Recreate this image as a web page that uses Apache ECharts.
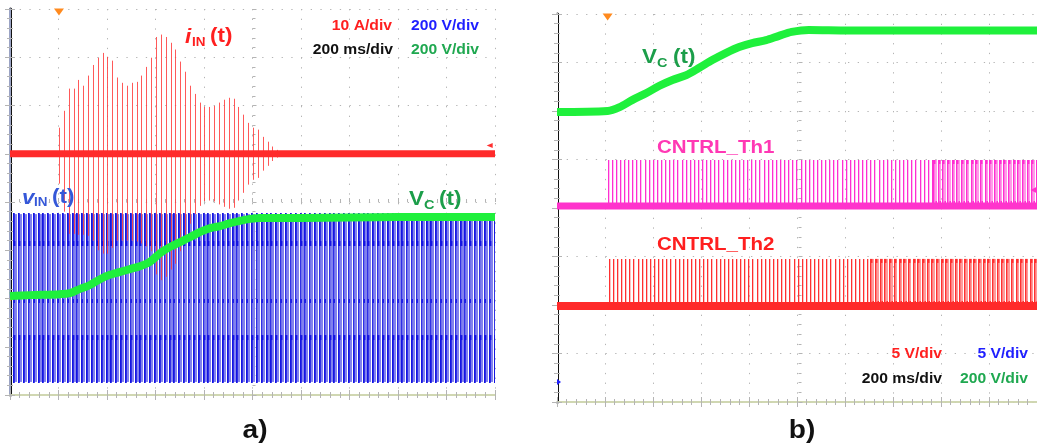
<!DOCTYPE html>
<html><head><meta charset="utf-8">
<script src="https://cdn.jsdelivr.net/npm/echarts@6/dist/echarts.min.js"></script>
<style>html,body{margin:0;padding:0;background:#fff}#c{width:1037px;height:446px}</style>
</head><body><div id="c"></div><script>
// ===== Panel a) : time in ms (200 ms/div), level in screen divisions (0 = bottom, 8 = top)
const aVcTime  = [0, 82, 206, 247, 289, 330, 371, 412, 454, 495, 536, 577, 619, 660, 701, 742, 784, 825, 866, 907, 948, 990, 1031, 1200, 1600, 2000];
const aVcLevel = [2.05, 2.07, 2.09, 2.11, 2.20, 2.28, 2.40, 2.49, 2.55, 2.61, 2.67, 2.76, 2.94, 3.07, 3.17, 3.27, 3.38, 3.46, 3.50, 3.56, 3.61, 3.65, 3.67, 3.67, 3.69, 3.69];
const aIinZero = 5.0;
const aIinFirstMs = 202;
const mainsPeriodMs = 20;
const aIinPeakUp   = [0.54,0.89,1.35,1.35,1.53,1.41,1.62,1.84,1.99,2.09,2.01,1.93,1.58,1.47,1.41,1.47,1.49,1.62,1.80,1.99,2.42,2.47,2.42,2.30,2.16,1.91,1.70,1.41,1.24,1.06,0.97,0.97,0.99,1.06,1.12,1.16,1.14,0.97,0.81,0.64,0.54,0.50,0.35,0.25,0.15,0.08];
const aIinPeakDown = [0.62,1.20,1.66,1.66,1.68,1.68,1.70,1.80,2.00,2.07,2.07,1.95,1.80,1.80,1.80,1.80,1.82,1.86,1.92,2.02,2.50,2.62,2.55,2.40,2.28,2.02,1.75,1.45,1.25,1.08,0.98,0.97,0.99,1.05,1.10,1.14,1.12,0.97,0.81,0.64,0.54,0.50,0.35,0.25,0.15,0.08];
const aVinFirstMs = 14;
const aVinTop = 3.77, aVinBottom = 0.25, aVinDarkTop = 3.15, aVinDarkBottom = 1.18, aVinMid = 1.95;

// ===== Panel b)
const bVcTime  = [0, 211, 261, 315, 373, 427, 481, 539, 593, 647, 705, 759, 813, 871, 925, 978, 1049, 1215, 2000];
const bVcLevel = [5.98, 6.00, 6.08, 6.23, 6.37, 6.52, 6.64, 6.74, 6.89, 7.05, 7.20, 7.32, 7.40, 7.46, 7.55, 7.63, 7.67, 7.66, 7.66];
const bTh1Low = 4.04, bTh1High = 4.99, bTh1StartMs = 211, bTh1WideFromMs = 1567;
const bTh2Low = 1.98, bTh2High = 2.95, bTh2StartMs = 216, bTh2WideFromMs = 1306;
const bPulsePeriodMs = 17.1, bPulseWidePeriodMs = 19.5, bPulseWideMs = 15;

// ===== Labels
const aScaleLabels = [['10 A/div', '200 V/div'], ['200 ms/div', '200 V/div']];
const bScaleLabels = [['5 V/div', '5 V/div'], ['200 ms/div', '200 V/div']];

const FONT = '"Liberation Sans", Arial, sans-serif';

function pulses(start, wideFrom, lo, hi) {
  const out = [];
  let t = start;
  for (; t < wideFrom; t += bPulsePeriodMs) out.push([t, lo, hi, 0]);
  for (t = wideFrom; t < 2000; t += bPulseWidePeriodMs) out.push([t, lo, hi, bPulseWideMs]);
  return out;
}
const vinCycles = [];
for (let t = aVinFirstMs; t < 2000; t += mainsPeriodMs) vinCycles.push([t]);
const iinSpikes = aIinPeakUp.map((u, k) => [aIinFirstMs + k * mainsPeriodMs, aIinZero - aIinPeakDown[k], aIinZero + u]);

function axesFor(g, W, H, rightColor) {
  const grid = '#b4b4b4';
  const base = { gridIndex: g, type: 'value', axisLabel: { show: false } };
  const xs = [
    Object.assign({}, base, { min: 0, max: 2000, interval: 200, position: 'bottom',
      axisLine: { show: true, lineStyle: { color: '#c4c4c4', width: 1.5 } },
      axisTick: { show: true, inside: true, length: 5, lineStyle: { color: grid } },
      minorTick: { show: true, splitNumber: 5, length: 3, lineStyle: { color: grid } },
      splitLine: { show: true, lineStyle: { color: grid, width: 1, type: [1.3, 8.4] } } }),
    Object.assign({}, base, { min: 0, max: 2000, interval: 200, position: 'top',
      axisLine: { show: true, lineStyle: { color: '#cfd9a8', width: 1.5 } },
      axisTick: { show: true, inside: true, length: 5, lineStyle: { color: grid } },
      minorTick: { show: true, splitNumber: 5, length: 3, lineStyle: { color: grid } },
      splitLine: { show: false } }),
    Object.assign({}, base, { min: 0, max: 2000, interval: 200, position: 'bottom', offset: -H / 2,
      axisLine: { show: false },
      axisTick: { show: true, inside: true, length: 4, lineStyle: { color: grid } },
      minorTick: { show: true, splitNumber: 5, length: 3, lineStyle: { color: grid } },
      splitLine: { show: false } })
  ];
  const ys = [
    Object.assign({}, base, { min: 0, max: 8, interval: 1, position: 'left',
      axisLine: { show: true, lineStyle: { color: '#111', width: 3 } },
      axisTick: { show: true, inside: true, length: 5, lineStyle: { color: grid } },
      minorTick: { show: true, splitNumber: 5, length: 3, lineStyle: { color: grid } },
      splitLine: { show: true, lineStyle: { color: grid, width: 1, type: [1.3, 8.4] } } }),
    Object.assign({}, base, { min: 0, max: 8, interval: 1, position: 'right',
      axisLine: { show: true, lineStyle: { color: rightColor, width: 2 } },
      axisTick: { show: true, inside: true, length: 5, lineStyle: { color: grid } },
      minorTick: { show: true, splitNumber: 5, length: 3, lineStyle: { color: grid } },
      splitLine: { show: false } }),
    Object.assign({}, base, { min: 0, max: 8, interval: 1, position: 'left', offset: -W / 2,
      axisLine: { show: false },
      axisTick: { show: true, inside: true, length: 4, lineStyle: { color: grid } },
      minorTick: { show: true, splitNumber: 5, length: 3, lineStyle: { color: grid } },
      splitLine: { show: false } })
  ];
  return { xs, ys };
}
const A = axesFor(0, 485, 386, '#9aa3c4');
const B = axesFor(1, 483, 388, '#ffffff');

const snap = v => Math.round(v) + 0.5;
function vline(x, y0, y1, color, w) {
  const sx = w <= 1.01 ? snap(x) : Math.round(x);
  return { type: 'line', shape: { x1: sx, y1: y0, x2: sx, y2: y1 }, style: { stroke: color, lineWidth: w } };
}
function box(x0, y0, x1, y1, color) {
  return { type: 'rect', shape: { x: Math.min(x0, x1), y: Math.min(y0, y1), width: Math.abs(x1 - x0), height: Math.abs(y1 - y0) }, style: { fill: color } };
}
function pulseRender(dark, light) {
  return function (params, api) {
    const t = api.value(0), lo = api.value(1), hi = api.value(2), w = api.value(3);
    const pLo = api.coord([t, lo]), pHi = api.coord([t, hi]);
    const x = Math.round(pLo[0]);
    const ch = [];
    if (w > 0) {
      const pEnd = api.coord([t + w, lo]);
      const xe = Math.round(pEnd[0]);
      ch.push(box(x, pHi[1], xe, pLo[1], light));
      ch.push(box(x, pHi[1], x + 2.5, pHi[1] + 4, dark));
      ch.push(box(xe - 1.5, pLo[1] - 5, xe, pLo[1], dark));
    }
    ch.push(box(x, pHi[1], x + 1.3, pLo[1], dark));
    return { type: 'group', children: ch };
  };
}

const option = {
  animation: false,
  backgroundColor: '#fff',
  grid: [
    { left: 10, top: 9, width: 485, height: 386 },
    { left: 557, top: 14, right: -3, height: 388 }
  ],
  xAxis: A.xs.concat(B.xs),
  yAxis: A.ys.concat(B.ys),
  series: [
    { // vIN (blue)
      type: 'custom', xAxisIndex: 0, yAxisIndex: 0, z: 2, clip: true,
      data: vinCycles,
      renderItem: function (params, api) {
        const t = api.value(0);
        const top = api.coord([t, aVinTop]), bot = api.coord([t, aVinBottom]);
        const dTop = api.coord([t, aVinDarkTop]), dBot = api.coord([t, aVinDarkBottom]);
        const mid = api.coord([t, aVinMid]);
        const x = Math.round(top[0]);
        return { type: 'group', children: [
          box(x + 1, top[1] + 1, x + 4, bot[1] - 1, '#8282ee'),
          box(x, top[1], x + 1.2, bot[1], '#3030e6'),
          box(x, top[1], x + 1.7, dTop[1], '#1414e2'),
          box(x, dBot[1], x + 1.7, bot[1], '#1414e2'),
          box(x, dTop[1] - 2, x + 2.4, dTop[1] + 3, '#1414e2'),
          box(x, dBot[1] - 3, x + 2.4, dBot[1] + 2, '#1414e2'),
          box(x, mid[1] - 2, x + 2, mid[1] + 2, '#2020e4')
        ] };
      }
    },
    { // iIN spikes
      type: 'custom', xAxisIndex: 0, yAxisIndex: 0, z: 3, clip: true,
      data: iinSpikes,
      renderItem: function (params, api) {
        const p0 = api.coord([api.value(0), api.value(1)]), p1 = api.coord([api.value(0), api.value(2)]);
        return vline(p0[0], p0[1], p1[1], 'rgba(255,60,60,0.85)', 1);
      }
    },
    { // iIN zero line
      type: 'line', xAxisIndex: 0, yAxisIndex: 0, z: 4, symbol: 'none',
      data: [[0, aIinZero], [2000, aIinZero]],
      lineStyle: { color: '#ff2a2a', width: 7 },
      markPoint: { label: { show: false }, data: [
        { coord: [1978, aIinZero + 0.17], symbol: 'triangle', symbolRotate: 90, symbolSize: [5, 6], itemStyle: { color: '#ff3030' } }
      ] }
    },
    { // Vc (green) a
      type: 'line', xAxisIndex: 0, yAxisIndex: 0, z: 5, symbol: 'none', smooth: 0.3,
      data: aVcTime.map((t, i) => [t, aVcLevel[i]]),
      lineStyle: { color: '#1ff03c', width: 8 },
      markPoint: { label: { show: false }, data: [
        { coord: [202, 8], symbol: 'triangle', symbolRotate: 180, symbolSize: [10, 7], symbolOffset: [0, 3], itemStyle: { color: '#ff8a1e' } },
        { coord: [0, 2.0], symbol: 'triangle', symbolRotate: -90, symbolSize: [5, 4], symbolOffset: [2, 0], itemStyle: { color: '#ff9a30' } }
      ] }
    },
    // ===== Panel b
    { // Th1 baseline
      type: 'line', xAxisIndex: 3, yAxisIndex: 3, z: 3, symbol: 'none',
      data: [[0, bTh1Low], [2000, bTh1Low]],
      lineStyle: { color: '#ff33cc', width: 7 },
      markPoint: { label: { show: false }, data: [
        { coord: [1985, bTh1Low + 0.33], symbol: 'triangle', symbolRotate: 90, symbolSize: [6, 6], itemStyle: { color: '#ff33cc' } }
      ] }
    },
    { type: 'custom', xAxisIndex: 3, yAxisIndex: 3, z: 2, clip: true,
      data: pulses(bTh1StartMs, bTh1WideFromMs, bTh1Low, bTh1High),
      renderItem: pulseRender('#ff2ed2', '#ff9ce8') },
    { // Th2 baseline
      type: 'line', xAxisIndex: 3, yAxisIndex: 3, z: 3, symbol: 'none',
      data: [[0, bTh2Low], [2000, bTh2Low]],
      lineStyle: { color: '#ff2a2a', width: 8 },
      markPoint: { label: { show: false }, data: [
        { coord: [0, bTh2Low], symbol: 'triangle', symbolRotate: -90, symbolSize: [6, 4], symbolOffset: [2, 0], itemStyle: { color: '#ff2a2a' } },
        { coord: [0, 0.41], symbol: 'triangle', symbolRotate: -90, symbolSize: [6, 4], symbolOffset: [2, 0], itemStyle: { color: '#2020ff' } }
      ] }
    },
    { type: 'custom', xAxisIndex: 3, yAxisIndex: 3, z: 2, clip: true,
      data: pulses(bTh2StartMs, bTh2WideFromMs, bTh2Low, bTh2High),
      renderItem: pulseRender('#ff3030', '#ff9c9c') },
    { // Vc (green) b
      type: 'line', xAxisIndex: 3, yAxisIndex: 3, z: 5, symbol: 'none', smooth: 0.3,
      data: bVcTime.map((t, i) => [t, bVcLevel[i]]),
      lineStyle: { color: '#1ff03c', width: 8 },
      markPoint: { label: { show: false }, data: [
        { coord: [211, 8], symbol: 'triangle', symbolRotate: 180, symbolSize: [10, 7], symbolOffset: [0, 3], itemStyle: { color: '#ff8a1e' } },
        { coord: [0, bVcLevel[0]], symbol: 'triangle', symbolRotate: -90, symbolSize: [6, 4], symbolOffset: [2, 0], itemStyle: { color: '#1fd03c' } }
      ] }
    }
  ]
};

function T(x, y, text, size, color, align, extra) {
  return Object.assign({ type: 'text', x: x, y: y, scaleX: 1.12, z: 100,
    style: { text: text, font: 'bold ' + size + 'px ' + FONT, fill: color,
      align: align || 'left', textAlign: align || 'left', verticalAlign: 'middle', textVerticalAlign: 'middle' } }, extra || {});
}
function TI(x, y, text, size, color) {
  const e = T(x, y, text, size, color);
  e.style.font = 'italic bold ' + size + 'px ' + FONT;
  return e;
}
const red = '#ff1f1f', blue = '#1f1fff', green = '#1fa850', black = '#111111';
option.graphic = [
  // panel a labels
  TI(185, 37, 'i', 20, red), T(192, 43, 'IN', 12, red), T(210, 36, '(t)', 20, red),
  TI(22, 198, 'v', 20, '#3558d8'), T(34, 203, 'IN', 12, '#3558d8'), T(52, 197, '(t)', 20, '#3558d8'),
  T(409, 199, 'V', 20, '#1c9e4a'), T(424, 205, 'C', 13, '#1c9e4a'), T(439, 199, '(t)', 20, '#1c9e4a'),
  T(392, 26, aScaleLabels[0][0], 14, red, 'right'), T(479, 26, aScaleLabels[0][1], 14, blue, 'right'),
  T(393, 50, aScaleLabels[1][0], 14, black, 'right'), T(479, 50, aScaleLabels[1][1], 14, green, 'right'),
  // panel b labels
  T(642, 57, 'V', 20, '#1c9e4a'), T(657, 63, 'C', 13, '#1c9e4a'), T(673, 57, '(t)', 20, '#1c9e4a'),
  T(657, 148.5, 'CNTRL_Th1', 18, '#ff38b4', 'left', { scaleX: 1.14 }),
  T(657, 245.5, 'CNTRL_Th2', 18, red, 'left', { scaleX: 1.14 }),
  T(942, 354, bScaleLabels[0][0], 14, red, 'right'), T(1028, 354, bScaleLabels[0][1], 14, blue, 'right'),
  T(942, 379, bScaleLabels[1][0], 14, black, 'right'), T(1028, 379, bScaleLabels[1][1], 14, green, 'right'),
  // captions
  T(255, 431, 'a)', 26, black, 'center', { scaleX: 1.08 }),
  T(802, 431, 'b)', 26, black, 'center', { scaleX: 1.08 })
];

const chart = echarts.init(document.getElementById('c'), null, { renderer: 'canvas' });
chart.setOption(option);
</script></body></html>
